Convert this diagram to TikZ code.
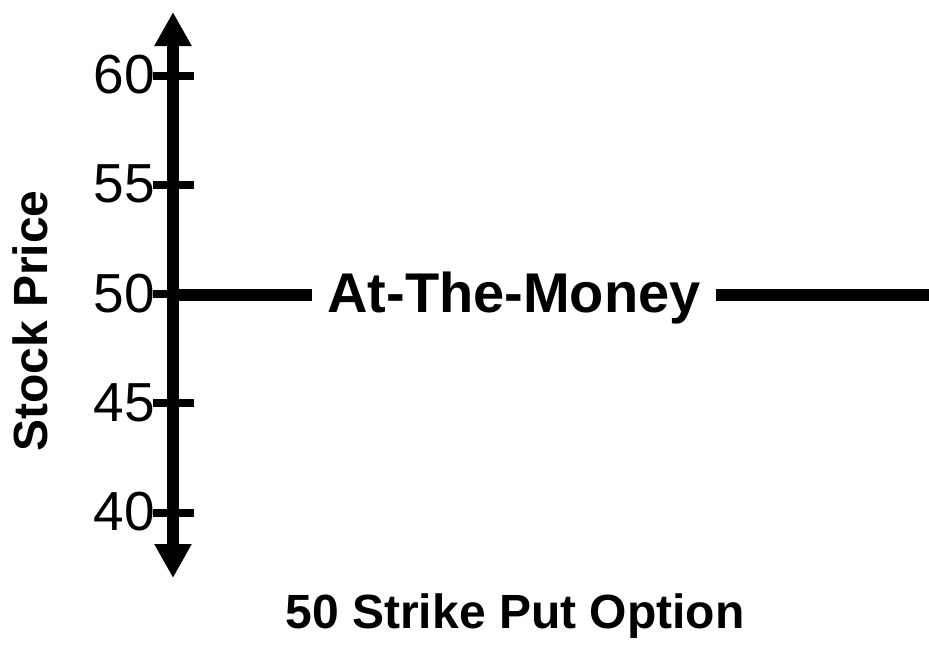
\documentclass[tikz,border=0pt]{standalone}
\usepackage{fontspec}
\setmainfont{Liberation Sans}
\usetikzlibrary{arrows.meta}
\tikzset{
  axisline/.style={line width=12pt, {Triangle[width=35pt,length=34pt]}-{Triangle[width=35pt,length=34pt]}},
  tickline/.style={line width=8pt},
  levelline/.style={line width=12.5pt},
  ticklabel/.style={anchor=base east, inner sep=0pt, font=\fontsize{55}{60}\selectfont},
  biglabel/.style={inner sep=0pt, font=\fontsize{56}{60}\selectfont\bfseries},
  axislabel/.style={inner sep=0pt, font=\fontsize{48}{54}\selectfont\bfseries}
}
\begin{document}
\begin{tikzpicture}[x=1pt,y=-1pt]
\useasboundingbox (0,0) rectangle (929,646);
\coordinate (top) at (173,12);
\coordinate (bot) at (173,578);
\draw[axisline] (bot) -- (top);
\foreach \v/\y in {60/75.5,55/184.75,50/294,45/403.25,40/512.5}{
  \coordinate (tl\v) at (153,\y);
  \coordinate (tr\v) at (194,\y);
  \draw[tickline] (tl\v) -- (tr\v);
  \node[ticklabel] (lab\v) at (155,\y+18) {\v};
}
\coordinate (hl) at (173,295);
\coordinate (hr) at (929,295);
\node[biglabel, anchor=base, inner xsep=15pt] (atm) at (514,312) {At-The-Money};
\draw[levelline] (hl) -- (hl -| atm.west);
\draw[levelline] (hl -| atm.east) -- (hr);
\node[axislabel, rotate=90] (ylab) at (30,321) {Stock Price};
\node[axislabel, anchor=base] (xlab) at (515,628) {50 Strike Put Option};
\end{tikzpicture}
\end{document}
